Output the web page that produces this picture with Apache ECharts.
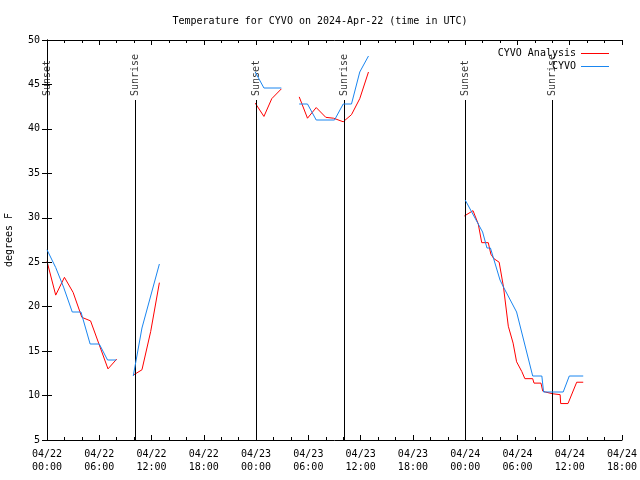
<!DOCTYPE html>
<html>
<head>
<meta charset="utf-8">
<script src="https://cdn.jsdelivr.net/npm/echarts@6/dist/echarts.min.js"></script>
<style>html,body{margin:0;padding:0;background:#fff}#c{width:640px;height:480px}</style>
</head>
<body>
<div id="c"></div>
<script>
// hours since 2024-04-22 00:00 UTC, temperatures in degrees F
const analysisSeg1 = [[0,25.1],[1,21.3],[2,23.3],[3,21.6],[4,18.8],[5,18.4],[6,15.7],[7,13.0],[8,14.1]];
const analysisSeg2 = [[9.9,12.3],[10.9,12.9],[11.9,17.2],[12.9,22.7]];
const analysisSeg3 = [[23.9,42.9],[24.9,41.4],[25.8,43.4],[26.9,44.5]];
const analysisSeg4 = [[28.95,43.6],[29.9,41.2],[30.9,42.4],[32.0,41.3],[32.9,41.2],[34.0,40.8],[34.95,41.6],[35.9,43.4],[36.9,46.4]];
const analysisSeg5 = [[47.9,30.2],[48.9,30.8],[49.5,29.3],[49.9,27.2],[50.65,27.2],[50.95,25.9],[51.3,25.4],[51.9,25.0],[52.4,22.2],[52.95,17.8],[53.5,15.9],[53.9,13.8],[54.5,12.7],[54.85,11.9],[55.75,11.9],[55.9,11.4],[56.7,11.4],[56.9,10.5],[57.2,10.4],[58.05,10.2],[58.9,10.1],[58.96,9.1],[59.8,9.1],[60.8,11.5],[61.55,11.5]];

const obsSeg1 = [[0,26.4],[1,24.4],[1.9,22.2],[2.9,19.4],[3.9,19.4],[4.95,15.8],[6,15.8],[6.95,14.0],[7.95,14.0]];
const obsSeg2 = [[9.9,12.2],[10.9,17.6],[11.9,21.2],[12.9,24.8]];
const obsSeg3 = [[23.9,46.4],[24.9,44.6],[26.9,44.6]];
const obsSeg4 = [[28.95,42.8],[29.9,42.8],[30.9,41.0],[33.0,41.0],[34.0,42.8],[34.95,42.8],[35.9,46.4],[36.9,48.2]];
const obsSeg5 = [[48,32.0],[49,30.2],[50,28.4],[50.5,26.6],[50.9,26.6],[52,23.0],[52.4,22.2],[53.9,19.4],[55.75,12.2],[56.8,12.2],[57.0,10.4],[59.25,10.4],[59.95,12.2],[61.55,12.2]];

const eventHours = [0, 10.1, 24.0, 34.1, 48.0, 58.0];
const eventNames = ['Sunset','Sunrise','Sunset','Sunrise','Sunset','Sunrise'];

const yMin = 5, yMax = 50, yStep = 5;
const xMin = 0, xMax = 66, xStep = 6;

function joinSegs(segs){
  const out = [];
  segs.forEach((s,i)=>{ if(i>0) out.push([s[0][0]-0.01,'-']); s.forEach(p=>out.push(p)); });
  return out;
}
const FONT = 'DejaVu Sans Mono';
const chart = echarts.init(document.getElementById('c'), null, {renderer:'canvas'});
function xLabel(v){
  const day = 22 + Math.floor(v/24);
  const h = Math.round(v % 24);
  return '04/' + day + '\n' + String(h).padStart(2,'0') + ':00';
}
const axisCommon = {
  axisLine:{show:true,lineStyle:{color:'#000',width:1}},
  axisTick:{show:true,inside:true,length:5,lineStyle:{color:'#000'}},
  splitLine:{show:false}
};
chart.setOption({
  animation:false,
  backgroundColor:'#fff',
  title:{text:'Temperature for CYVO on 2024-Apr-22 (time in UTC)',left:'center',top:11,
    textStyle:{fontFamily:FONT,fontSize:10,fontWeight:'normal',color:'#000'}},
  legend:{right:26,top:43,orient:'vertical',align:'right',itemWidth:28,itemHeight:1,itemGap:2,icon:'rect',
    data:['CYVO Analysis','CYVO'],
    formatter:n=>n.padStart(13,' '),
    textStyle:{fontFamily:FONT,fontSize:10,color:'#000',lineHeight:11}},
  grid:{left:47,right:18,top:40,bottom:40,containLabel:false,outerBoundsMode:'none'},
  xAxis:[
    Object.assign({type:'value',min:xMin,max:xMax,interval:xStep,position:'bottom',
      minorTick:{show:true,splitNumber:3,length:3,lineStyle:{color:'#000'}},
      axisLabel:{formatter:xLabel,fontFamily:FONT,fontSize:10,color:'#000',margin:8,lineHeight:13}},axisCommon),
    Object.assign({type:'value',min:xMin,max:xMax,interval:xStep,position:'top',
      minorTick:{show:true,splitNumber:3,length:3,lineStyle:{color:'#000'}},
      axisLabel:{show:false}},axisCommon)
  ],
  yAxis:[
    Object.assign({type:'value',min:yMin,max:yMax,interval:yStep,position:'left',
      name:'degrees F',nameLocation:'middle',nameRotate:90,nameGap:33,
      nameTextStyle:{fontFamily:FONT,fontSize:10,color:'#000'},
      axisLabel:{fontFamily:FONT,fontSize:10,color:'#000',margin:7}},axisCommon),
    Object.assign({type:'value',min:yMin,max:yMax,interval:yStep,position:'right',
      axisLabel:{show:false}},axisCommon)
  ],
  series:[
    {name:'events',type:'scatter',symbolSize:0,silent:true,
      data:eventHours.map((h,i)=>({value:[h,43.7],name:eventNames[i]})),
      label:{show:true,formatter:p=>p.name,rotate:90,position:[0,0],align:'left',verticalAlign:'middle',
        fontFamily:FONT,fontSize:10,color:'#000'},
      markLine:{silent:true,symbol:'none',label:{show:false},lineStyle:{color:'#000',width:1,type:'solid'},
        data:eventHours.map(h=>[{coord:[h,yMin]},{coord:[h,43.25]}])},
      z:3},
    {name:'CYVO Analysis',type:'line',showSymbol:false,symbol:'none',connectNulls:false,
      color:'#ff0000',lineStyle:{color:'#ff0000',width:1},
      data:joinSegs([analysisSeg1,analysisSeg2,analysisSeg3,analysisSeg4,analysisSeg5]),z:4},
    {name:'CYVO',type:'line',showSymbol:false,symbol:'none',connectNulls:false,
      color:'#1a86f0',lineStyle:{color:'#1a86f0',width:1},
      data:joinSegs([obsSeg1,obsSeg2,obsSeg3,obsSeg4,obsSeg5]),z:5}
  ]
});
</script>
</body>
</html>
